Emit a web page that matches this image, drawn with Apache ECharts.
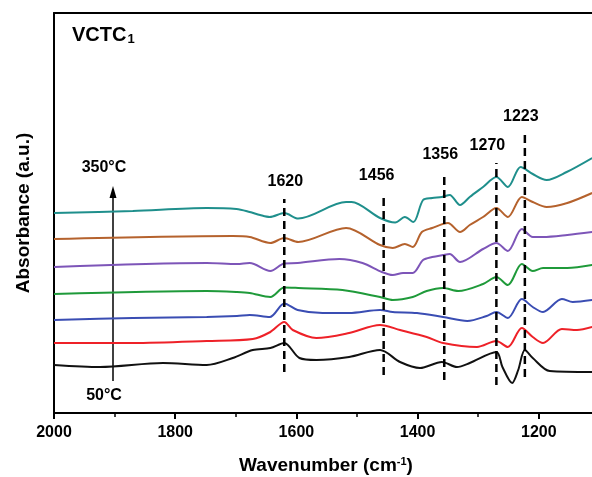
<!DOCTYPE html>
<html><head><meta charset="utf-8">
<script src="https://cdn.jsdelivr.net/npm/echarts@6/dist/echarts.min.js"></script>
<style>html,body{margin:0;padding:0;background:#fff}#c{width:592px;height:477px}</style>
</head><body><div id="c"></div>
<script>
// Wavenumber (cm-1) / absorbance (a.u., stacked with offsets) pairs
const t50 = [[2000,48],[1924,46],[1820,50],[1748,48],[1705,55],[1672,63],[1643,65],[1620,70],[1595,55],[1567,53],[1513,56],[1462,63],[1429,51],[1396,45],[1360,51],[1335,46],[1314,50],[1270,61],[1260,46],[1244,30],[1234,43],[1223,63],[1210,55],[1182,42],[1112,41]];
const t100 = [[2000,70],[1870,70],[1748,72],[1672,74],[1643,81],[1620,91],[1606,83],[1567,75],[1513,80],[1462,88],[1429,83],[1385,76],[1358,70],[1302,66],[1270,72],[1251,66],[1228,85],[1210,76],[1193,70],[1162,84],[1137,83],[1112,86]];
const t150 = [[2000,93],[1870,95],[1748,96],[1698,97],[1677,98],[1644,96],[1620,109.5],[1598,103],[1557,100],[1513,100],[1462,103],[1441,101],[1401,100],[1358,96],[1318,92],[1286,97],[1270,101],[1251,95],[1228,114],[1210,106],[1193,101],[1162,114],[1144,111],[1112,113]];
const t200 = [[2000,119],[1748,122],[1698,121],[1677,120],[1643,116],[1620,125.5],[1597,125],[1524,123],[1462,116],[1441,113],[1408,116],[1385,122],[1358,125],[1333,122],[1292,129],[1270,136],[1251,128],[1228,149],[1210,142],[1193,145],[1153,145],[1112,148]];
const t250 = [[2000,146],[1748,150],[1698,149],[1677,150],[1643,142],[1620,149.5],[1598,150],[1529,154],[1491,150],[1459,141],[1441,138],[1424,140],[1408,140],[1391,153],[1376,156],[1358,158],[1347,159],[1330,151],[1292,164],[1270,170],[1251,162],[1228,184],[1210,176],[1193,176],[1153,178],[1112,181]];
const t300 = [[2000,174],[1705,177],[1677,176],[1643,170],[1620,175],[1597,171],[1518,185],[1462,168],[1441,165],[1421,169],[1408,166],[1393,181],[1376,185],[1350,190],[1330,181],[1314,188],[1292,196],[1270,205],[1251,196],[1228,216],[1210,211],[1187,206],[1153,210],[1112,220]];
const t350 = [[2000,200],[1870,202],[1748,205],[1699,204],[1677,201],[1660,198],[1644,196],[1620,200],[1597,194.5],[1518,211],[1509,211],[1462,195],[1437,190.5],[1421,196],[1407,191],[1391,213],[1376,215],[1360,216],[1347,218],[1330,208],[1314,216],[1292,226],[1270,236],[1251,226],[1230,246],[1210,239],[1187,233],[1154,241],[1112,255]];
const seriesNames = ['50°C','100°C','150°C','200°C','250°C','300°C','350°C'];
// Marked bands
const peakLabels = ['1620','1456','1356','1270','1223'];
const peakWavenumbers = [1620,1456,1356,1270,1223];
const peakTops = [214,220,241,250,279];
const peakBottoms = [41,38,33,28,36];
const xTickValues = [2000,1800,1600,1400,1200];

const curves = [t50,t100,t150,t200,t250,t300,t350];
const colors = ['#111111','#ee2128','#3a4db3','#1f9a3a','#7d55b8','#b5622d','#1f8f8c'];
const labelShift = [1,-7,-4,-9,-4];
const FONT = '"Liberation Sans", Arial, sans-serif';

const series = [];
curves.forEach((d,i)=>{
  series.push({type:'line', name:seriesNames[i], data:d, xAxisIndex:0, symbol:'none', smooth:0.3,
    lineStyle:{color:colors[i], width:2}, z:2, silent:true});
});
peakWavenumbers.forEach((w,i)=>{
  series.push({type:'line', data:[[w,peakBottoms[i]],{value:[w,peakTops[i]],
    label:{show:true, position:'top', distance:9, offset:[labelShift[i],0], formatter:peakLabels[i],
      color:'#000', fontSize:16, fontWeight:'bold', fontFamily:FONT}}],
    xAxisIndex:0, symbol:'circle', symbolSize:1, itemStyle:{color:'rgba(0,0,0,0)'},
    lineStyle:{color:'#000', width:2.5, type:[8,5]}, z:3, silent:true});
});

const chart = echarts.init(document.getElementById('c'), null, {renderer:'canvas'});
chart.setOption({
  animation:false,
  backgroundColor:'#fff',
  grid:{left:54, right:-68, top:13, bottom:64, containLabel:false, outerBoundsMode:'none'},
  xAxis:[{type:'value', inverse:true, min:1000, max:2000, interval:200, position:'bottom',
    axisLine:{show:true, onZero:false, lineStyle:{color:'#000', width:2}},
    axisTick:{show:true, length:6, lineStyle:{color:'#000', width:2}},
    minorTick:{show:true, splitNumber:2, length:4, lineStyle:{color:'#000', width:1.5}},
    axisLabel:{show:true, margin:12, color:'#000', fontSize:16, fontWeight:'bold', fontFamily:FONT,
      formatter:v=> xTickValues.indexOf(v)>=0 ? String(v) : ''},
    splitLine:{show:false}},
   {type:'value', inverse:true, min:1000, max:2000, position:'top',
    axisLine:{show:true, onZero:false, lineStyle:{color:'#000', width:2}},
    axisTick:{show:false}, axisLabel:{show:false}, splitLine:{show:false}}],
  yAxis:{type:'value', min:0, max:400,
    axisLine:{show:true, onZero:false, lineStyle:{color:'#000', width:2}},
    axisTick:{show:false}, axisLabel:{show:false}, splitLine:{show:false}},
  series: series,
  graphic:[
    {type:'text', left:72, top:25, style:{text:'{a|VCTC}{b|1}', rich:{
      a:{fontSize:20, fontWeight:'bold', fontFamily:FONT, fill:'#000', verticalAlign:'bottom', lineHeight:22},
      b:{fontSize:13, fontWeight:'bold', fontFamily:FONT, fill:'#000', verticalAlign:'bottom', lineHeight:22, padding:[0,0,-1,1]}}}},
    {type:'line', shape:{x1:113, y1:381, x2:113, y2:195}, style:{stroke:'#000', lineWidth:1.5}},
    {type:'polygon', shape:{points:[[113,186],[109.5,198],[116.5,198]]}, style:{fill:'#000'}},
    {type:'text', x:104, y:168, style:{text:'350°C', fontSize:16, fontWeight:'bold', fontFamily:FONT, fill:'#000', align:'center', verticalAlign:'middle'}},
    {type:'text', x:104, y:396, style:{text:'50°C', fontSize:16, fontWeight:'bold', fontFamily:FONT, fill:'#000', align:'center', verticalAlign:'middle'}},
    {type:'text', x:326, y:466, style:{text:'Wavenumber (cm{s|-1})', fontSize:19, fontWeight:'bold', fontFamily:FONT, fill:'#000', align:'center', verticalAlign:'middle',
      rich:{s:{fontSize:11, fontWeight:'bold', fontFamily:FONT, fill:'#000', verticalAlign:'top', padding:[0,0,8,0]}}}},
    {type:'text', x:24, y:213, rotation:Math.PI/2, style:{text:'Absorbance (a.u.)', fontSize:19, fontWeight:'bold', fontFamily:FONT, fill:'#000', align:'center', verticalAlign:'middle'}}
  ]
});
</script>
</body></html>
